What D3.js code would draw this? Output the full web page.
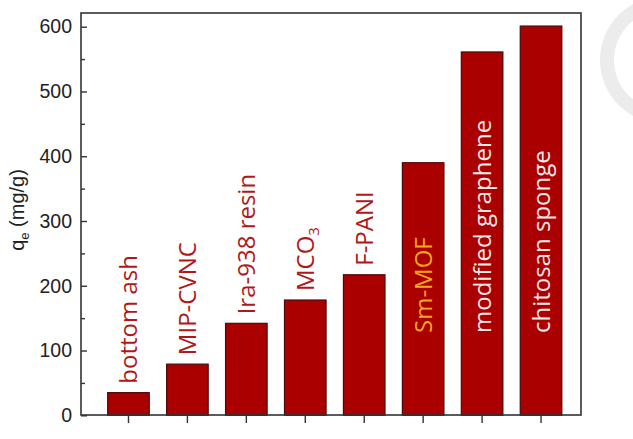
<!DOCTYPE html>
<html>
<head>
<meta charset="utf-8">
<script src="https://cdn.jsdelivr.net/npm/d3@7"></script>
<style>
  body { margin: 0; background: #fff; }
  svg { display: block; }
</style>
</head>
<body>
<div id="chart"></div>
<script>
// Adsorption capacity of the different adsorbents
const materials = ["bottom ash", "MIP-CVNC", "Ira-938 resin", "MCO3", "F-PANI",
  "Sm-MOF", "modified graphene", "chitosan sponge"];
const capacity = [35, 79, 142, 178, 217, 390, 561, 601];
// where the label goes: "above" the bar or "inside" it
const labelPlace = ["above", "above", "above", "above", "above",
  "inside", "inside", "inside"];
const yTicks = [0, 100, 200, 300, 400, 500, 600];

const W = 633, H = 439;
const frame = {left: 81, right: 581, top: 13, bottom: 415};

let svg = d3.select("#chart").append("svg")
  .attr("width", W).attr("height", H);

let x = d3.scaleBand().domain(materials)
  .range([99, 570.5]).paddingInner(0.295).paddingOuter(0.1475);

let y = d3.scaleLinear().domain([0, 600]).range([415.3, 26.7]);

// faint seal in the corner
svg.append("path")
  .attr("d", d3.arc().innerRadius(50).outerRadius(64)
    .startAngle(-Math.PI).endAngle(0)())
  .attr("transform", "translate(664,60)")
  .attr("fill", "#ececec");

// bars
svg.selectAll("rect.bar").data(materials).enter()
  .append("rect").attr("class", "bar")
  .attr("x", d => x(d))
  .attr("width", x.bandwidth())
  .attr("y", (d, i) => y(capacity[i]))
  .attr("height", (d, i) => y(0) - y(capacity[i]))
  .attr("fill", "#aa0000")
  .attr("stroke", "#4a0a0a")
  .attr("stroke-width", 1.2);

// frame
svg.append("rect")
  .attr("x", frame.left).attr("y", frame.top)
  .attr("width", frame.right - frame.left)
  .attr("height", frame.bottom - frame.top)
  .attr("fill", "none").attr("stroke", "#333").attr("stroke-width", 1.6);

// left axis, ticks pointing inwards
let yAxis = d3.axisLeft(y).tickValues(yTicks).tickSize(-6).tickPadding(9);
let gy = svg.append("g").attr("transform", `translate(${frame.left},0)`).call(yAxis);
gy.select(".domain").remove();
gy.selectAll(".tick line").attr("stroke", "#333").attr("stroke-width", 1.4);
gy.selectAll(".tick text")
  .attr("font-family", "Liberation Sans, Arial, sans-serif")
  .attr("font-size", 19.5).attr("fill", "#222");

let minor = d3.axisLeft(y).tickValues(d3.range(50, 600, 100)).tickSize(-4).tickFormat("");
let gm = svg.append("g").attr("transform", `translate(${frame.left},0)`).call(minor);
gm.select(".domain").remove();
gm.selectAll(".tick line").attr("stroke", "#333").attr("stroke-width", 1.4);

// bottom axis, ticks pointing down at bar centres
let xAxis = d3.axisBottom(x).tickSize(8).tickFormat("");
let gx = svg.append("g").attr("transform", `translate(0,${frame.bottom})`).call(xAxis);
gx.select(".domain").remove();
gx.selectAll(".tick line").attr("stroke", "#333").attr("stroke-width", 1.4);

// y title
let yTitle = svg.append("text")
  .attr("transform", "translate(24,210) rotate(-90)")
  .attr("text-anchor", "middle")
  .attr("font-family", "Liberation Sans, Arial, sans-serif")
  .attr("font-size", 20).attr("fill", "#222");
yTitle.append("tspan").text("q");
yTitle.append("tspan").text("e").attr("font-size", 13).attr("dy", 5);
yTitle.append("tspan").text(" (mg/g)").attr("dy", -5);

// bar labels, rotated
let labels = svg.selectAll("text.lab").data(materials).enter()
  .append("text").attr("class", "lab")
  .attr("transform", (d, i) => {
    let cx = x(d) + x.bandwidth() / 2 + 9;
    let base = labelPlace[i] == "above" ? y(capacity[i]) - 9 : 333;
    return `translate(${cx},${base}) rotate(-90)`;
  })
  .attr("font-family", "Open Sans, sans-serif")
  .attr("font-size", 24)
  .attr("fill", (d, i) => labelPlace[i] == "above" ? "#b01818"
    : (d == "Sm-MOF" ? "#f5a623" : "#f6e8e8"));

labels.each(function(d) {
  if (d == "MCO3") {
    d3.select(this).append("tspan").text("MCO");
    d3.select(this).append("tspan").text("3").attr("font-size", 15).attr("dy", 5);
  } else {
    d3.select(this).text(d);
  }
});
</script>
</body>
</html>
